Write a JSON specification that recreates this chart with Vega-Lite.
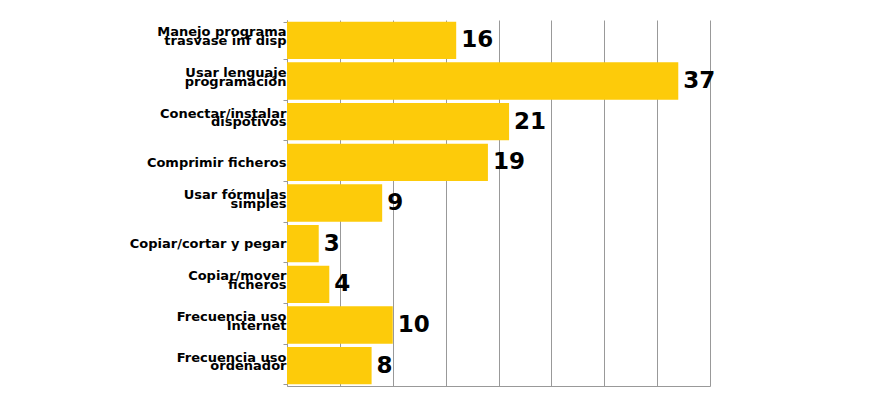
{
  "$schema": "https://vega.github.io/schema/vega-lite/v6.json",
  "width": 423,
  "height": 366,
  "autosize": "none",
  "padding": {"left": 287, "top": 20, "right": 160, "bottom": 16},
  "background": "white",
  "config": {"view": {"stroke": null}},
  "data": {
    "values": [
      {"cat": "Manejo programa|trasvase inf disp", "value": 16},
      {"cat": "Usar lenguaje|programación", "value": 37},
      {"cat": "Conectar/instalar|dispotivos", "value": 21},
      {"cat": "Comprimir ficheros", "value": 19},
      {"cat": "Usar fórmulas|simples", "value": 9},
      {"cat": "Copiar/cortar y pegar", "value": 3},
      {"cat": "Copiar/mover|ficheros", "value": 4},
      {"cat": "Frecuencia uso|Internet", "value": 10},
      {"cat": "Frecuencia uso|ordenador", "value": 8}
    ]
  },
  "encoding": {
    "y": {
      "field": "cat",
      "type": "nominal",
      "sort": null,
      "scale": {"paddingInner": 0.08, "paddingOuter": 0.04},
      "axis": {
        "title": null,
        "labelExpr": "length(split(datum.label,'|')) < 2 ? [' ', datum.label] : [pad(split(datum.label,'|')[0], length(split(datum.label,'|')[0]) + max(0, round((length(split(datum.label,'|')[1]) - length(split(datum.label,'|')[0])) * 0.86)), ' '), ' ', pad(split(datum.label,'|')[1], length(split(datum.label,'|')[1]) + max(0, round((length(split(datum.label,'|')[0]) - length(split(datum.label,'|')[1])) * 0.86)), ' ')]",
        "labelFont": "DejaVu Sans",
        "labelFontWeight": "bold",
        "labelFontSize": 13,
        "labelColor": "#000000",
        "labelLineHeight": 8.5,
        "labelBaseline": "middle",
        "labelOffset": -8.5,
        "labelPadding": -3,
        "labelLimit": 300,
        "tickBand": "extent",
        "tickSize": 4,
        "tickColor": "#999999",
        "domainColor": "#999999",
        "grid": false
      }
    },
    "x": {
      "field": "value",
      "type": "quantitative",
      "scale": {"domain": [0, 40], "nice": false},
      "axis": {
        "title": null,
        "labels": false,
        "ticks": false,
        "values": [0, 5, 10, 15, 20, 25, 30, 35, 40],
        "grid": true,
        "gridColor": "#999999",
        "gridOpacity": 1,
        "domainColor": "#999999"
      }
    }
  },
  "layer": [
    {"mark": {"type": "bar", "color": "#FDCB0A"}},
    {
      "mark": {
        "type": "text",
        "align": "left",
        "baseline": "middle",
        "dx": 5,
        "font": "DejaVu Sans",
        "fontWeight": "bold",
        "fontSize": 23,
        "color": "#000000"
      },
      "encoding": {"text": {"field": "value", "type": "quantitative"}}
    }
  ]
}
